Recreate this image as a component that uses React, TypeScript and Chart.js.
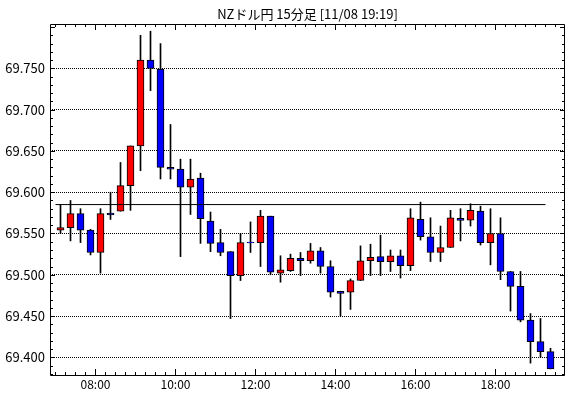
import React, { useEffect, useRef } from "react";
import { Chart, registerables } from "chart.js";

Chart.register(...registerables);

const TITLE = "NZドル円 15分足 [11/08 19:19]";

const TIMES = [
  "07:00", "07:15", "07:30", "07:45", "08:00", "08:15", "08:30", "08:45",
  "09:00", "09:15", "09:30", "09:45", "10:00", "10:15", "10:30", "10:45",
  "11:00", "11:15", "11:30", "11:45", "12:00", "12:15", "12:30", "12:45",
  "13:00", "13:15", "13:30", "13:45", "14:00", "14:15", "14:30", "14:45",
  "15:00", "15:15", "15:30", "15:45", "16:00", "16:15", "16:30", "16:45",
  "17:00", "17:15", "17:30", "17:45", "18:00", "18:15", "18:30", "18:45",
  "19:00", "19:15",
];

const OPEN = [
  69.554, 69.557, 69.574, 69.554, 69.527, 69.5748, 69.577, 69.608,
  69.656, 69.760, 69.749, 69.630, 69.628, 69.606, 69.617, 69.565,
  69.539, 69.528, 69.499, 69.5395, 69.539, 69.571, 69.502, 69.505,
  69.520, 69.517, 69.529, 69.510, 69.4798, 69.479, 69.493, 69.517,
  69.522, 69.516, 69.523, 69.511, 69.567, 69.546, 69.527, 69.533,
  69.5683, 69.566, 69.577, 69.539, 69.550, 69.504, 69.486, 69.445,
  69.419, 69.407,
];

const HIGH = [
  69.585, 69.590, 69.580, 69.555, 69.580, 69.600, 69.636, 69.656,
  69.790, 69.795, 69.780, 69.682, 69.640, 69.640, 69.623, 69.576,
  69.555, 69.528, 69.550, 69.564, 69.578, 69.571, 69.523, 69.525,
  69.527, 69.538, 69.533, 69.517, 69.480, 69.495, 69.535, 69.537,
  69.548, 69.530, 69.530, 69.580, 69.588, 69.569, 69.559, 69.578,
  69.580, 69.586, 69.583, 69.580, 69.569, 69.504, 69.504, 69.453,
  69.447, 69.411,
];

const LOW = [
  69.550, 69.541, 69.539, 69.524, 69.502, 69.567, 69.577, 69.578,
  69.626, 69.723, 69.616, 69.616, 69.522, 69.573, 69.538, 69.528,
  69.523, 69.447, 69.493, 69.527, 69.510, 69.500, 69.491, 69.504,
  69.499, 69.514, 69.502, 69.473, 69.450, 69.458, 69.493, 69.499,
  69.499, 69.504, 69.496, 69.505, 69.542, 69.516, 69.516, 69.533,
  69.541, 69.559, 69.536, 69.512, 69.494, 69.456, 69.443, 69.393,
  69.400, 69.386,
];

const CLOSE = [
  69.557, 69.574, 69.554, 69.527, 69.574, 69.5724, 69.608, 69.656,
  69.760, 69.750, 69.630, 69.628, 69.606, 69.616, 69.568, 69.538,
  69.527, 69.499, 69.539, 69.5385, 69.571, 69.503, 69.506, 69.520,
  69.517, 69.529, 69.510, 69.479, 69.4774, 69.493, 69.517, 69.521,
  69.516, 69.523, 69.511, 69.569, 69.546, 69.527, 69.533, 69.569,
  69.5659, 69.578, 69.539, 69.550, 69.504, 69.486, 69.445, 69.419,
  69.407, 69.386,
];

// reference line (previous close level) and its span
const REF_LEVEL = 69.585;
const REF_FROM = "07:00";
const REF_TO = "19:15";

const Y_MIN = 69.3786;
const Y_MAX = 69.8037;
const Y_TICKS = [69.4, 69.45, 69.5, 69.55, 69.6, 69.65, 69.7, 69.75];
const X_TICKS = ["08:00", "10:00", "12:00", "14:00", "16:00", "18:00"];
const X_MIN = "06:52";
const X_MAX = "19:44";

const FONT_FAMILY = "'Noto Sans CJK JP', 'Liberation Sans', sans-serif";

// helpers
const toHours = (t: string) => {
  const [h, m] = t.split(":").map(Number);
  return h + m / 60;
};
const SLOT = 0.25; // 15 minutes
const center = (t: string) => toHours(t) + SLOT / 2;
const pad2 = (n: number) => (n < 10 ? "0" + n : "" + n);
const fmtHour = (v: number) => pad2(Math.round(v)) + ":00";

const frameAndTicks = {
  id: "frameAndTicks",
  afterDraw(chart: any) {
    const { ctx, chartArea, scales } = chart;
    const { left, right, top, bottom } = chartArea;
    const xs = scales.x;
    const ys = scales.y;
    ctx.save();
    ctx.strokeStyle = "#000";
    ctx.lineWidth = 1;
    ctx.beginPath();
    // frame
    ctx.moveTo(left + 0.5, top + 0.5);
    ctx.lineTo(right - 0.5, top + 0.5);
    ctx.lineTo(right - 0.5, bottom + 0.5);
    ctx.lineTo(left + 0.5, bottom + 0.5);
    ctx.closePath();
    // x ticks every 15 minutes, longer at labelled hours
    const x0 = Math.ceil(xs.min / SLOT) * SLOT;
    for (let v = x0; v < xs.max - 1e-6; v += SLOT) {
      const px = Math.floor(xs.getPixelForValue(v)) + 0.5;
      const major = Math.abs(v / 2 - Math.round(v / 2)) < 1e-6;
      const len = major ? 6 : 3;
      ctx.moveTo(px, top);
      ctx.lineTo(px, top + len);
      ctx.moveTo(px, bottom);
      ctx.lineTo(px, bottom - len);
    }
    // y ticks every 0.01
    const y0 = Math.ceil(ys.min * 100) / 100;
    for (let k = 0; y0 + k * 0.01 <= ys.max; k++) {
      const v = y0 + k * 0.01;
      const py = Math.round(ys.getPixelForValue(v)) + 0.5;
      const major = Math.abs(v * 20 - Math.round(v * 20)) < 1e-6;
      const len = major ? 5 : 3;
      ctx.moveTo(left, py);
      ctx.lineTo(left + len, py);
      ctx.moveTo(right, py);
      ctx.lineTo(right - len, py);
    }
    ctx.stroke();
    ctx.restore();
  },
};

export default function App() {
  const canvasRef = useRef<HTMLCanvasElement | null>(null);

  useEffect(() => {
    document.body.style.margin = "0";
    const canvas = canvasRef.current;
    if (!canvas) return;

    const xs = TIMES.map(center);
    const wicks = TIMES.map((_, i) => ({ x: xs[i], y: [LOW[i], HIGH[i]] }));
    const bodies = TIMES.map((_, i) => ({ x: xs[i], y: [OPEN[i], CLOSE[i]] }));
    const bodyColors = TIMES.map((_, i) => (CLOSE[i] >= OPEN[i] ? "#ff0000" : "#0000ff"));

    const xShift = 0.5 / 40; // half a pixel for crisp candles

    const chart = new Chart(canvas, {
      type: "bar",
      data: {
        datasets: [
          {
            type: "line",
            data: [
              { x: toHours(REF_FROM), y: REF_LEVEL },
              { x: toHours(REF_TO), y: REF_LEVEL },
            ],
            borderColor: "#000",
            borderWidth: 1,
            pointRadius: 0,
            order: 0,
          } as any,
          {
            data: bodies as any,
            backgroundColor: bodyColors,
            borderColor: "#000",
            borderWidth: 1,
            borderSkipped: false,
            barThickness: 7,
            grouped: false,
            order: 1,
          },
          {
            data: wicks as any,
            backgroundColor: "#000",
            borderWidth: 0,
            barThickness: 1,
            grouped: false,
            order: 2,
          },
        ],
      },
      options: {
        animation: false,
        responsive: false,
        events: [],
        layout: { padding: { left: 0, right: 5, top: 0, bottom: 0 } },
        plugins: {
          legend: { display: false },
          tooltip: { enabled: false },
          title: {
            display: true,
            text: TITLE,
            color: "#000",
            fullSize: false,
            font: { family: FONT_FAMILY, size: 13, weight: "normal", lineHeight: 1.2 },
            padding: { top: 6, bottom: 2.4 },
          },
        },
        scales: {
          x: {
            type: "linear",
            offset: false,
            min: toHours(X_MIN) + 0.5 / 60 - xShift,
            max: toHours(X_MAX) + 1 / 60 - xShift,
            afterFit: (s: any) => {
              s.height = 23;
            },
            afterBuildTicks: (s: any) => {
              s.ticks = X_TICKS.map((t) => ({ value: toHours(t) }));
            },
            grid: { display: false, drawTicks: false },
            border: { display: false },
            ticks: {
              autoSkip: false,
              maxRotation: 0,
              padding: 2,
              color: "#000",
              font: { family: FONT_FAMILY, size: 12 },
              callback: (v: any) => fmtHour(Number(v)),
            },
          },
          y: {
            type: "linear",
            min: Y_MIN,
            max: Y_MAX,
            afterFit: (s: any) => {
              s.width = 50;
            },
            afterBuildTicks: (s: any) => {
              s.ticks = Y_TICKS.map((v) => ({ value: v }));
            },
            grid: {
              color: "#000",
              lineWidth: 1,
              drawTicks: false,
            },
            border: { display: false, dash: [1, 1] },
            ticks: {
              padding: 5,
              color: "#000",
              font: { family: FONT_FAMILY, size: 13 },
              callback: (v: any) => Number(v).toFixed(3),
            },
          },
        },
      },
      plugins: [frameAndTicks],
    });

    return () => chart.destroy();
  }, []);

  return (
    <div style={{ position: "absolute", left: 0, top: 0, width: 570, height: 398 }}>
      <canvas ref={canvasRef} width={570} height={398} style={{ display: "block" }} />
    </div>
  );
}
